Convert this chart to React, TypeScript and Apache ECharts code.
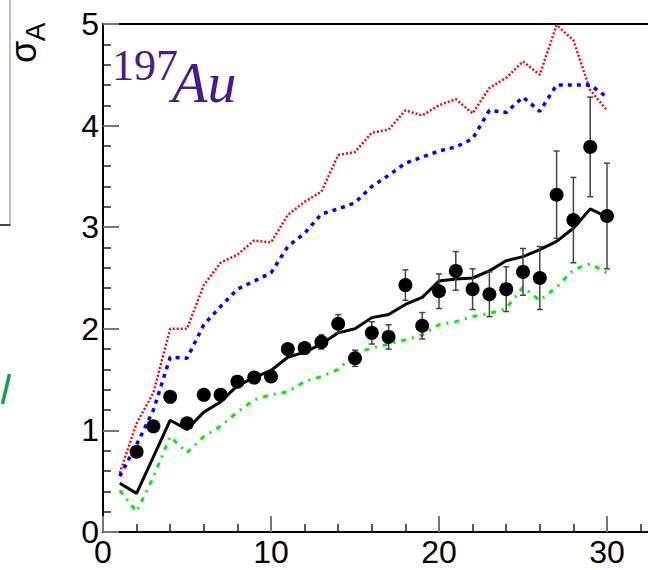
import React, { useEffect, useRef } from "react";
import * as echarts from "echarts";

const xs = [1, 2, 3, 4, 5, 6, 7, 8, 9, 10, 11, 12, 13, 14, 15, 16, 17, 18, 19, 20, 21, 22, 23, 24, 25, 26, 27, 28, 29, 30];
const redModel = [0.58, 1.07, 1.37, 2.0, 2.0, 2.43, 2.65, 2.73, 2.87, 2.85, 3.12, 3.25, 3.35, 3.71, 3.74, 3.93, 3.96, 4.15, 4.1, 4.2, 4.26, 4.12, 4.37, 4.47, 4.63, 4.5, 4.99, 4.84, 4.35, 4.15];
const blueModel = [0.55, 0.86, 1.2, 1.72, 1.71, 2.04, 2.22, 2.39, 2.47, 2.55, 2.81, 2.94, 3.13, 3.18, 3.24, 3.4, 3.51, 3.63, 3.69, 3.75, 3.79, 3.87, 4.15, 4.13, 4.28, 4.14, 4.4, 4.4, 4.4, 4.28];
const greenModel = [0.41, 0.2, 0.54, 0.94, 0.78, 0.94, 1.04, 1.18, 1.3, 1.35, 1.38, 1.48, 1.53, 1.6, 1.76, 1.81, 1.85, 1.89, 1.94, 2.04, 2.07, 2.12, 2.15, 2.2, 2.41, 2.28, 2.41, 2.58, 2.64, 2.55];
const blackModel = [0.48, 0.38, 0.74, 1.1, 1.01, 1.18, 1.28, 1.44, 1.52, 1.59, 1.72, 1.77, 1.85, 1.96, 2.0, 2.11, 2.14, 2.24, 2.31, 2.47, 2.49, 2.5, 2.57, 2.67, 2.71, 2.78, 2.86, 2.99, 3.18, 3.1];

const dataX = [2, 3, 4, 5, 6, 7, 8, 9, 10, 11, 12, 13, 14, 15, 16, 17, 18, 19, 20, 21, 22, 23, 24, 25, 26, 27, 28, 29, 30];
const dataY = [0.79, 1.04, 1.33, 1.07, 1.35, 1.35, 1.48, 1.52, 1.53, 1.8, 1.81, 1.87, 2.05, 1.71, 1.96, 1.92, 2.43, 2.03, 2.37, 2.57, 2.39, 2.34, 2.39, 2.56, 2.5, 3.32, 3.07, 3.79, 3.11];
const dataErr = [0.03, 0.03, 0.03, 0.03, 0.03, 0.03, 0.03, 0.03, 0.03, 0.05, 0.05, 0.07, 0.09, 0.08, 0.11, 0.12, 0.15, 0.13, 0.17, 0.19, 0.2, 0.22, 0.22, 0.23, 0.31, 0.43, 0.42, 0.49, 0.52];

const xTickLabels = ["0", "10", "20", "30"];
const yTickLabels = ["0", "1", "2", "3", "4", "5"];

export default function App() {
  const ref = useRef<HTMLDivElement>(null);
  useEffect(() => {
    if (!ref.current) return;
    const chart = echarts.init(ref.current, undefined, { renderer: "svg" });
    const pair = (ys: number[]) => xs.map((x, i) => [x, ys[i]]);
    const errData = dataX.map((x, i) => [x, dataY[i] - dataErr[i], dataY[i] + dataErr[i]]);
    const pts = dataX.map((x, i) => [x, dataY[i]]);
    const labelFont = { fontSize: 32, color: "#000", fontFamily: "Liberation Sans", lineHeight: 30 };

    chart.setOption({
      animation: false,
      grid: {
        left: 103,
        top: 24,
        height: 508,
        width: 672,
        show: true,
        borderColor: "#000",
        borderWidth: 2,
        backgroundColor: "transparent",
      },
      xAxis: {
        type: "value",
        min: 0,
        max: 40,
        interval: 10,
        axisLine: { show: true, lineStyle: { color: "#000", width: 2 } },
        axisTick: { show: true, inside: true, length: 16, lineStyle: { color: "#777", width: 2 } },
        minorTick: { show: true, splitNumber: 5, length: 8, lineStyle: { color: "#222", width: 1.5 } },
        splitLine: { show: false },
        axisLabel: {
          ...labelFont,
          margin: 5,
          formatter: (v: number) => (xTickLabels.includes(String(v)) ? String(v) : ""),
        },
      },
      yAxis: {
        type: "value",
        min: 0,
        max: 5,
        interval: 1,
        axisLine: { show: true, lineStyle: { color: "#000", width: 2 } },
        axisTick: { show: true, inside: true, length: 16, lineStyle: { color: "#777", width: 2 } },
        minorTick: { show: true, splitNumber: 5, length: 8, lineStyle: { color: "#222", width: 1.5 } },
        splitLine: { show: false },
        axisLabel: {
          ...labelFont,
          margin: 4,
          formatter: (v: number) => (yTickLabels.includes(String(v)) ? String(v) : ""),
        },
      },
      series: [
        {
          type: "line",
          data: pair(redModel),
          symbol: "none",
          lineStyle: { color: "#ff0000", width: 2.5, type: [2, 2] },
          z: 2,
        },
        {
          type: "line",
          data: pair(blueModel),
          symbol: "none",
          lineStyle: { color: "#0000ff", width: 3.5, type: [4, 5] },
          z: 2,
        },
        {
          type: "line",
          data: pair(greenModel),
          symbol: "none",
          lineStyle: { color: "#00ee00", width: 3, type: [5, 6, 2, 6] },
          z: 2,
        },
        {
          type: "line",
          data: pair(blackModel),
          symbol: "none",
          lineStyle: { color: "#000", width: 3 },
          z: 3,
        },
        {
          type: "custom",
          data: errData,
          encode: { x: 0, y: [1, 2] },
          z: 4,
          renderItem: (params: any, api: any) => {
            const x = api.value(0);
            const lo = api.coord([x, api.value(1)]);
            const hi = api.coord([x, api.value(2)]);
            const st = { stroke: "#444", lineWidth: 1.5 };
            return {
              type: "group",
              children: [
                { type: "line", shape: { x1: hi[0], y1: hi[1], x2: lo[0], y2: lo[1] }, style: st },
                { type: "line", shape: { x1: hi[0] - 3, y1: hi[1], x2: hi[0] + 3, y2: hi[1] }, style: st },
                { type: "line", shape: { x1: lo[0] - 3, y1: lo[1], x2: lo[0] + 3, y2: lo[1] }, style: st },
              ],
            };
          },
        },
        {
          type: "scatter",
          data: pts,
          symbol: "circle",
          symbolSize: 14,
          itemStyle: { color: "#000", opacity: 1 },
          z: 5,
        },
      ],
      graphic: [
        { type: "line", shape: { x1: 10, y1: 0, x2: 10, y2: 225 }, style: { stroke: "#aaa", lineWidth: 1.5 } },
        { type: "line", shape: { x1: 0, y1: 225, x2: 10.5, y2: 225 }, style: { stroke: "#444", lineWidth: 2 } },
        { type: "line", shape: { x1: 9.5, y1: 374, x2: 2.5, y2: 404 }, style: { stroke: "#1f9a4a", lineWidth: 3.5 } },
        {
          type: "text",
          x: 23,
          y: 52,
          rotation: Math.PI / 2,
          style: { text: "σ", font: "36px 'Liberation Sans'", fill: "#000", align: "center", verticalAlign: "middle" },
        },
        {
          type: "text",
          x: 35,
          y: 32,
          rotation: Math.PI / 2,
          style: { text: "A", font: "28px 'Liberation Sans'", fill: "#000", align: "center", verticalAlign: "middle" },
        },
        {
          type: "text",
          x: 112,
          y: 65,
          style: { text: "197", font: "44px 'Liberation Serif'", fill: "#4a1a8a", align: "left", verticalAlign: "middle" },
        },
        {
          type: "text",
          x: 172,
          y: 82,
          style: { text: "Au", font: "italic 58px 'Liberation Serif'", fill: "#4a1a8a", align: "left", verticalAlign: "middle" },
        },
      ],
    });
    return () => chart.dispose();
  }, []);

  return (
    <div style={{ position: "fixed", left: 0, top: 0, width: 648, height: 570, overflow: "hidden", background: "#fff" }}>
      <div ref={ref} style={{ width: 800, height: 570 }} />
    </div>
  );
}
